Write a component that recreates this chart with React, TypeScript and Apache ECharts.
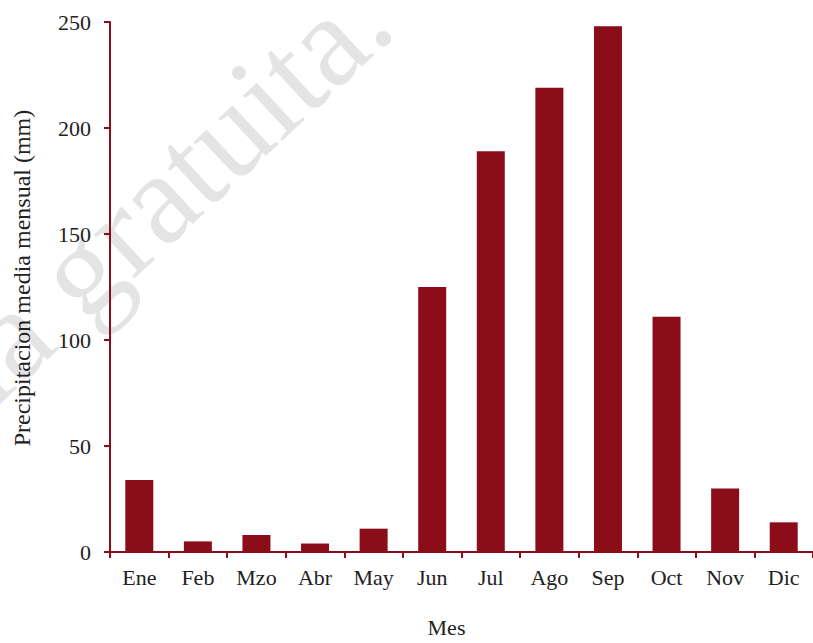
import React, { useEffect, useRef } from "react";
import * as echarts from "echarts";

const months = ["Ene", "Feb", "Mzo", "Abr", "May", "Jun", "Jul", "Ago", "Sep", "Oct", "Nov", "Dic"];
const rainfall = [34, 5, 8, 4, 11, 125, 189, 219, 248, 111, 30, 14];
const yTicks = { min: 0, max: 250, interval: 50 };
const yAxisTitle = "Precipitacion media mensual (mm)";
const xAxisTitle = "Mes";
const watermarkMain = "gratuita.";
const watermarkLead = "previa";

const RED = "#8b0d1a";
const FONT = "'Liberation Serif', 'DejaVu Serif', serif";
const WM_COLOR = "rgba(190,190,190,0.42)";
const WM_ROT = 0.75;

export default function App() {
  const ref = useRef<HTMLDivElement>(null);
  useEffect(() => {
    if (!ref.current) return;
    const chart = echarts.init(ref.current, null, { renderer: "svg" });
    chart.setOption({
      animation: false,
      backgroundColor: "#ffffff",
      grid: { left: 110, top: 22, width: 709, height: 535 },
      graphic: [
        {
          type: "text",
          x: 212,
          y: 146,
          rotation: WM_ROT,
          z: -1,
          silent: true,
          style: {
            text: watermarkMain,
            fontFamily: FONT,
            fontSize: 130,
            fill: WM_COLOR,
            align: "center",
            verticalAlign: "middle",
          },
        },
        {
          type: "text",
          x: 31,
          y: 315,
          rotation: WM_ROT,
          z: -1,
          silent: true,
          style: {
            text: watermarkLead,
            fontFamily: FONT,
            fontSize: 130,
            fill: WM_COLOR,
            align: "right",
            verticalAlign: "middle",
          },
        },
        {
          type: "text",
          x: 22,
          y: 278,
          rotation: Math.PI / 2,
          style: {
            text: yAxisTitle,
            fontFamily: FONT,
            fontSize: 24,
            fill: "#222",
            align: "center",
            verticalAlign: "middle",
          },
        },
      ],
      xAxis: {
        type: "category",
        data: months,
        name: xAxisTitle,
        nameLocation: "middle",
        nameGap: 64,
        nameTextStyle: { fontFamily: FONT, fontSize: 22, color: "#222", padding: [0, 30, 0, 0] },
        axisLine: { show: true, lineStyle: { color: RED, width: 2 } },
        axisTick: { show: true, length: 6, lineStyle: { color: RED, width: 2 } },
        axisLabel: { fontFamily: FONT, fontSize: 22, color: "#222", margin: 14 },
        splitLine: { show: false },
      },
      yAxis: {
        type: "value",
        min: yTicks.min,
        max: yTicks.max,
        interval: yTicks.interval,
        axisLine: { show: true, lineStyle: { color: RED, width: 2 } },
        axisTick: { show: true, length: 6, lineStyle: { color: RED, width: 2 } },
        axisLabel: { fontFamily: FONT, fontSize: 22, color: "#222", margin: 19 },
        splitLine: { show: false },
      },
      series: [
        {
          type: "bar",
          data: rainfall,
          barWidth: 28,
          itemStyle: { color: RED },
        },
      ],
    });
    return () => chart.dispose();
  }, []);
  return (
    <div
      ref={ref}
      style={{ position: "fixed", left: 0, top: 0, width: 813, height: 643 }}
    />
  );
}
